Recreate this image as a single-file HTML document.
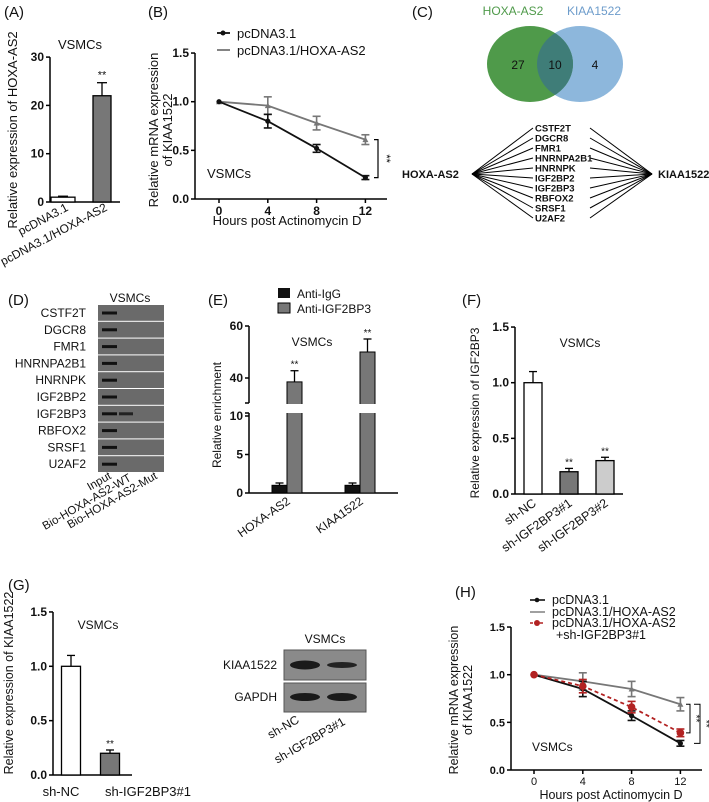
<!DOCTYPE html>
<html><head><meta charset="utf-8"><style>
html,body{margin:0;padding:0;background:#fff;}
svg{display:block;font-family:"Liberation Sans",Arial,sans-serif;}
</style></head><body>
<svg id="fig" width="709" height="802" viewBox="0 0 709 802" xmlns="http://www.w3.org/2000/svg"></svg>
<script>
// ---------- DATA ----------
const aCats = ["pcDNA3.1","pcDNA3.1/HOXA-AS2"];
const aVals = [1.0, 22.0];
const aErrs = [0.2, 2.7];
const aTicks = [0,10,20,30];

const bTimes = [0,4,8,12];
const bCtrl = [1.0, 0.80, 0.52, 0.22];
const bCtrlErr = [0.0, 0.07, 0.04, 0.02];
const bHoxa = [1.0, 0.96, 0.78, 0.61];
const bHoxaErr = [0.0, 0.09, 0.07, 0.05];
const bTicks = [0.0,0.5,1.0,1.5];

const vennCounts = [27, 10, 4];
const genes = ["CSTF2T","DGCR8","FMR1","HNRNPA2B1","HNRNPK","IGF2BP2","IGF2BP3","RBFOX2","SRSF1","U2AF2"];

const eCats = ["HOXA-AS2","KIAA1522"];
const eIgG = [1.0, 1.0];
const eIgGErr = [0.3, 0.3];
const eIGF = [38.5, 50.0];
const eIGFErr = [4.3, 5.0];
const eTicksLow = [0,5,10];
const eTicksHigh = [40,60];

const fCats = ["sh-NC","sh-IGF2BP3#1","sh-IGF2BP3#2"];
const fVals = [1.0, 0.20, 0.30];
const fErrs = [0.10, 0.03, 0.03];
const fTicks = [0.0,0.5,1.0,1.5];

const gCats = ["sh-NC","sh-IGF2BP3#1"];
const gVals = [1.0, 0.20];
const gErrs = [0.10, 0.03];
const gTicks = [0.0,0.5,1.0,1.5];

const hTimes = [0,4,8,12];
const hCtrl = [1.0, 0.85, 0.57, 0.28];
const hCtrlErr = [0.0, 0.08, 0.05, 0.03];
const hHoxa = [1.0, 0.93, 0.85, 0.69];
const hHoxaErr = [0.0, 0.09, 0.08, 0.07];
const hRed = [1.0, 0.88, 0.66, 0.39];
const hRedErr = [0.0, 0.07, 0.06, 0.04];
const hTicks = [0.0,0.5,1.0,1.5];

// ---------- HELPERS ----------
const NS="http://www.w3.org/2000/svg";
const svg=document.getElementById('fig');
function mk(tag, name, attrs, parent){
  const el=document.createElementNS(NS,tag);
  
  
  for(const k in attrs) el.setAttribute(k, attrs[k]);
  (parent||svg).appendChild(el);
  return el;
}
function line(name,x1,y1,x2,y2,stroke,w,extra){return mk('line',name,Object.assign({x1,y1,x2,y2,stroke:stroke||'#000','stroke-width':w||1.5},extra||{}));}
function rect(name,x,y,w,h,fill,stroke,sw){return mk('rect',name,{x,y,width:w,height:h,fill:fill,stroke:stroke||'none','stroke-width':sw||1.3});}
function text(name,s,x,y,size,anchor,extra){const t=mk('text',name,Object.assign({x,y,'font-size':size||12,'text-anchor':anchor||'start',fill:'#111'},extra||{}));t.textContent=s;return t;}
function rtext(name,s,x,y,size,anchor,ang){return text(name,s,x,y,size,anchor,{transform:`rotate(${ang} ${x} ${y})`});}
function errUp(name,x,y1,y2,cap){line(name,x,y1,x,y2,'#000',1.3);line(name+'-cap',x-cap,y2,x+cap,y2,'#000',1.3);}
function errBoth(name,x,yl,yh,cap,c){line(name,x,yl,x,yh,c||'#000',1.6);line(name+'-cap-top',x-cap,yh,x+cap,yh,c||'#000',1.6);line(name+'-cap-bot',x-cap,yl,x+cap,yl,c||'#000',1.6);}
function yAxis(prefix,x,ytop,ybot,ticks,yf,fmt,size){
  line(prefix+'-y-axis',x,ytop,x,ybot,'#000',1.5);
  ticks.forEach(v=>{const y=yf(v);line(prefix+'-y-tick',x-4,y,x,y,'#000',1.5);text(prefix+'-y-tick-label',fmt(v),x-6,y+4,size||12,'end',{'font-weight':'bold'});});
}

// ---------- PANEL A ----------
text('panel-a-label','(A)',4,17,15);
const yA=v=>202-v*4.83;
yAxis('panel-a',50,yA(30),202,aTicks,yA,v=>String(v));
line('panel-a-x-axis',50,202,120,202,'#000',1.5);
text('panel-a-title','VSMCs',80,49,13,'middle');
rtext('panel-a-y-title','Relative expression of HOXA-AS2',17,130,13,'middle',-90);
const aX=[63,102],aW=[24,18],aFill=['#fff','#777'];
aCats.forEach((c,i)=>{
  rect('panel-a-bar-'+i,aX[i]-aW[i]/2,yA(aVals[i]),aW[i],202-yA(aVals[i]),aFill[i],'#000',1.3);
  errUp('panel-a-error-'+i,aX[i],yA(aVals[i]),yA(aVals[i]+aErrs[i]),5);
  rtext('panel-a-x-label',c,aX[i]+6,210,12,'end',-28);
});
text('panel-a-sig','**',102,yA(aVals[1]+aErrs[1])-4,11,'middle');

// ---------- PANEL B ----------
text('panel-b-label','(B)',148,17,15);
const xB=t=>219+t*12.2, yB=v=>199-v*97.3;
yAxis('panel-b',195,yB(1.5),199,bTicks,yB,v=>v.toFixed(1));
line('panel-b-x-axis',195,199,387,199,'#000',1.5);
bTimes.forEach(t=>{line('panel-b-x-tick',xB(t),199,xB(t),203,'#000',1.5);text('panel-b-x-tick-label',String(t),xB(t),215,12,'middle',{'font-weight':'bold'});});
text('panel-b-x-title','Hours post Actinomycin D',287,225,13,'middle');
rtext('panel-b-y-title','Relative mRNA expression',158,130,13,'middle',-90);
rtext('panel-b-y-title-2','of KIAA1522',172,130,13,'middle',-90);
text('panel-b-vsmcs','VSMCs',207,178,13,'start');
function series(prefix,times,vals,errs,xf,yf,color,dash,marker){
  const pts=times.map((t,i)=>xf(t)+','+yf(vals[i])).join(' ');
  mk('polyline',prefix+'-line',{points:pts,fill:'none',stroke:color,'stroke-width':1.8,'stroke-dasharray':dash||'none'});
  times.forEach((t,i)=>{
    if(errs[i]>0) errBoth(prefix+'-error',xf(t),yf(vals[i]-errs[i]),yf(vals[i]+errs[i]),4,color);
    if(marker==='tri') mk('path',prefix+'-point',{d:`M${xf(t)-3},${yf(vals[i])+2.5} L${xf(t)+3},${yf(vals[i])+2.5} L${xf(t)},${yf(vals[i])-3} Z`,fill:color});
    else mk('circle',prefix+'-point',{cx:xf(t),cy:yf(vals[i]),r:marker==='big'?3.8:2.6,fill:color});
  });
}
series('panel-b-hoxa',bTimes,bHoxa,bHoxaErr,xB,yB,'#777','', 'tri');
series('panel-b-ctrl',bTimes,bCtrl,bCtrlErr,xB,yB,'#111','', 'dot');
line('panel-b-legend-ctrl-line',217,33,230,33,'#111',1.8);mk('circle','panel-b-legend-ctrl-marker',{cx:223,cy:33,r:2.5,fill:'#111'});
text('panel-b-legend-ctrl','pcDNA3.1',237,38,13);
line('panel-b-legend-hoxa-line',217,50,230,50,'#777',1.8);
text('panel-b-legend-hoxa','pcDNA3.1/HOXA-AS2',237,55,13);
mk('path','panel-b-sig-bracket',{d:`M374,${yB(bHoxa[3])} H378 V${yB(bCtrl[3])} H374`,fill:'none',stroke:'#000','stroke-width':1.2});
rtext('panel-b-sig','**',383,yB((bHoxa[3]+bCtrl[3])/2),11,'middle',90);

// ---------- PANEL C ----------
text('panel-c-label','(C)',412,17,15);
text('venn-label-hoxa','HOXA-AS2',513,15,12,'middle',{fill:'#4f9a4a'});
text('venn-label-kiaa','KIAA1522',594,15,12,'middle',{fill:'#6d9ccb'});
mk('ellipse','venn-circle-kiaa',{cx:580,cy:64,rx:43,ry:38,fill:'#8db7dc'});
mk('ellipse','venn-circle-hoxa',{cx:530,cy:64,rx:43,ry:38,fill:'#4f9a4a'});
const cp=mk('clipPath','venn-clip',{id:'vclip'});mk('ellipse','venn-clip-shape',{cx:580,cy:64,rx:43,ry:38},cp);
mk('ellipse','venn-overlap',{cx:530,cy:64,rx:43,ry:38,fill:'#3f7d78','clip-path':'url(#vclip)'});
text('venn-count-hoxa',String(vennCounts[0]),518,69,12,'middle');
text('venn-count-both',String(vennCounts[1]),555,69,12,'middle');
text('venn-count-kiaa',String(vennCounts[2]),595,69,12,'middle');
text('network-hoxa','HOXA-AS2',402,178,11,'start',{'font-weight':'bold'});
text('network-kiaa','KIAA1522',658,178,11,'start',{'font-weight':'bold'});
genes.forEach((g,i)=>{
  const y=128+i*10;
  line('network-edge-left',472,174,533,y,'#000',1);
  line('network-edge-right',590,y,652,174,'#000',1);
  text('network-gene',g,535,y+3.5,9.5,'start',{'font-weight':'bold'});
});

// ---------- PANEL D ----------
text('panel-d-label','(D)',8,305,15);
text('panel-d-title','VSMCs',130,302,12,'middle');
genes.forEach((g,i)=>{
  const y=305+i*16.8;
  rect('gel-row-'+i,98,y,66,15.8,'#6a6a6a');
  rect('gel-band-input',102,y+6.5,15,3,'#111');
  if(g==='IGF2BP3') rect('gel-band-wt',119,y+6.5,14,3,'#222');
  text('gel-label',g,86,y+12,12,'end');
});
rtext('gel-lane-input','Input',112,478,11.5,'end',-30);
rtext('gel-lane-wt','Bio-HOXA-AS2-WT',132,480,11.5,'end',-30);
rtext('gel-lane-mut','Bio-HOXA-AS2-Mut',158,478,11.5,'end',-30);

// ---------- PANEL E ----------
text('panel-e-label','(E)',208,305,15);
rect('legend-igg-swatch',278,288,12,10,'#111');text('legend-igg','Anti-IgG',297,298,12);
rect('legend-igf-swatch',278,303,12,10,'#777','#000',1);text('legend-igf','Anti-IGF2BP3',297,313,12);
const yE=v=>v<=10.6?493-v*7.7:378-(v-40)*2.6;
line('panel-e-y-axis-low',249,413,249,493,'#000',1.5);
line('panel-e-y-axis-high',249,326,249,403,'#000',1.5);
eTicksLow.concat(eTicksHigh).forEach(v=>{const y=yE(v);line('panel-e-y-tick',245,y,249,y,'#000',1.5);text('panel-e-y-tick-label',String(v),243,y+4,12,'end',{'font-weight':'bold'});});
line('panel-e-break-tick',245,403,249,403,'#000',1.5);line('panel-e-break-tick',245,413,249,413,'#000',1.5);
line('panel-e-x-axis',249,493,398,493,'#000',1.5);
text('panel-e-title','VSMCs',312,346,12,'middle');
rtext('panel-e-y-title','Relative enrichment',221,415,12,'middle',-90);
const eX=[287,360];
eCats.forEach((c,i)=>{
  rect('panel-e-bar-igg-'+i,eX[i]-15,yE(eIgG[i]),15,493-yE(eIgG[i]),'#111','#000',1);
  errUp('panel-e-error-igg',eX[i]-7.5,yE(eIgG[i]),yE(eIgG[i]+eIgGErr[i]),4);
  rect('panel-e-bar-igf-'+i,eX[i],yE(eIGF[i]),15,493-yE(eIGF[i]),'#777','#000',1);
  rect('panel-e-bar-break',eX[i]-1,404,17,9,'#fff');
  errUp('panel-e-error-igf',eX[i]+7.5,yE(eIGF[i]),yE(eIGF[i]+eIGFErr[i]),4);
  text('panel-e-sig','**',eX[i]+7.5,yE(eIGF[i]+eIGFErr[i])-3,10,'middle');
  rtext('panel-e-x-label',c,eX[i]+4,503,12,'end',-35);
});

// ---------- PANEL F ----------
text('panel-f-label','(F)',462,305,15);
const yF=v=>494-v*111.3;
yAxis('panel-f',515,yF(1.5),494,fTicks,yF,v=>v.toFixed(1));
line('panel-f-x-axis',515,494,623,494,'#000',1.5);
text('panel-f-title','VSMCs',580,347,12,'middle');
rtext('panel-f-y-title','Relative expression of IGF2BP3',479,413,12,'middle',-90);
const fX=[533,569,605],fFill=['#fff','#777','#ccc'];
fCats.forEach((c,i)=>{
  rect('panel-f-bar-'+i,fX[i]-9,yF(fVals[i]),18,494-yF(fVals[i]),fFill[i],'#000',1.3);
  errUp('panel-f-error',fX[i],yF(fVals[i]),yF(fVals[i]+fErrs[i]),4);
  if(i>0) text('panel-f-sig','**',fX[i],yF(fVals[i]+fErrs[i])-3,10,'middle');
  rtext('panel-f-x-label',c,fX[i]+4,505,12.5,'end',-35);
});

// ---------- PANEL G ----------
text('panel-g-label','(G)',8,590,15);
const yG=v=>775-v*108.7;
yAxis('panel-g',53,yG(1.5),775,gTicks,yG,v=>v.toFixed(1));
line('panel-g-x-axis',53,775,132,775,'#000',1.5);
text('panel-g-title','VSMCs',98,629,12,'middle');
rtext('panel-g-y-title','Relative expression of KIAA1522',13,683,12.5,'middle',-90);
const gX=[71,110],gFill=['#fff','#777'];
gCats.forEach((c,i)=>{
  rect('panel-g-bar-'+i,gX[i]-9.5,yG(gVals[i]),19,775-yG(gVals[i]),gFill[i],'#000',1.3);
  errUp('panel-g-error',gX[i],yG(gVals[i]),yG(gVals[i]+gErrs[i]),4);
  if(i>0) text('panel-g-sig','**',gX[i],yG(gVals[i]+gErrs[i])-3,10,'middle');
});
text('panel-g-x-label','sh-NC',61,796,13,'middle');
text('panel-g-x-label','sh-IGF2BP3#1',148,796,13,'middle');
text('blot-title','VSMCs',325,643,12,'middle');
rect('blot-kiaa-box',284,650,82,30,'#8a8a8a','#555',1);
rect('blot-gapdh-box',284,683,82,29,'#8a8a8a','#555',1);
mk('ellipse','blot-kiaa-band-1',{cx:305,cy:665,rx:15,ry:4.5,fill:'#1a1a1a'});
mk('ellipse','blot-kiaa-band-2',{cx:342,cy:665,rx:15,ry:3,fill:'#222'});
mk('ellipse','blot-gapdh-band-1',{cx:305,cy:697,rx:15,ry:4,fill:'#1a1a1a'});
mk('ellipse','blot-gapdh-band-2',{cx:342,cy:697,rx:15,ry:4,fill:'#1a1a1a'});
text('blot-label-kiaa','KIAA1522',277,669,12,'end');
text('blot-label-gapdh','GAPDH',277,701,12,'end');
rtext('blot-lane-shnc','sh-NC',300,722,12,'end',-30);
rtext('blot-lane-sh1','sh-IGF2BP3#1',346,724,12,'end',-30);

// ---------- PANEL H ----------
text('panel-h-label','(H)',455,597,15);
const xH=t=>534+t*12.2, yH=v=>770-v*95.3;
yAxis('panel-h',511,yH(1.5),770,hTicks,yH,v=>v.toFixed(1),11);
line('panel-h-x-axis',511,770,702,770,'#000',1.5);
hTimes.forEach(t=>{line('panel-h-x-tick',xH(t),770,xH(t),774,'#000',1.5);text('panel-h-x-tick-label',String(t),xH(t),785,11,'middle');});
text('panel-h-x-title','Hours post Actinomycin D',611,799,12.5,'middle');
rtext('panel-h-y-title','Relative mRNA expression',458,700,12.5,'middle',-90);
rtext('panel-h-y-title-2','of KIAA1522',472,700,12.5,'middle',-90);
text('panel-h-vsmcs','VSMCs',532,751,12,'start');
series('panel-h-hoxa',hTimes,hHoxa,hHoxaErr,xH,yH,'#777','', 'tri');
series('panel-h-ctrl',hTimes,hCtrl,hCtrlErr,xH,yH,'#111','', 'dot');
series('panel-h-red',hTimes,hRed,hRedErr,xH,yH,'#b22222','4,3','big');
line('panel-h-legend-ctrl-line',530,600,545,600,'#111',1.6);mk('circle','panel-h-legend-ctrl-marker',{cx:537,cy:600,r:2.3,fill:'#111'});
text('panel-h-legend-ctrl','pcDNA3.1',552,604,12.5);
line('panel-h-legend-hoxa-line',530,612,545,612,'#888',1.6);
text('panel-h-legend-hoxa','pcDNA3.1/HOXA-AS2',552,616,12.5);
line('panel-h-legend-red-line',530,623,545,623,'#b22222',1.6,{'stroke-dasharray':'3,2'});mk('circle','panel-h-legend-red-marker',{cx:537,cy:623,r:3,fill:'#b22222'});
text('panel-h-legend-red','pcDNA3.1/HOXA-AS2',552,627,12.5);
text('panel-h-legend-red-2','+sh-IGF2BP3#1',556,639,12.5);
mk('path','panel-h-sig-inner',{d:`M686,${yH(hHoxa[3])} H690 V${yH(hRed[3])} H686`,fill:'none',stroke:'#000','stroke-width':1});
mk('path','panel-h-sig-outer',{d:`M694,${yH(hHoxa[3])} H700 V${yH(hCtrl[3])} H694`,fill:'none',stroke:'#000','stroke-width':1});
rtext('panel-h-sig-inner-label','**',693,yH((hHoxa[3]+hRed[3])/2),10,'middle',90);
rtext('panel-h-sig-outer-label','**',703,yH((hHoxa[3]+hCtrl[3])/2),10,'middle',90);
</script>
</body></html>
